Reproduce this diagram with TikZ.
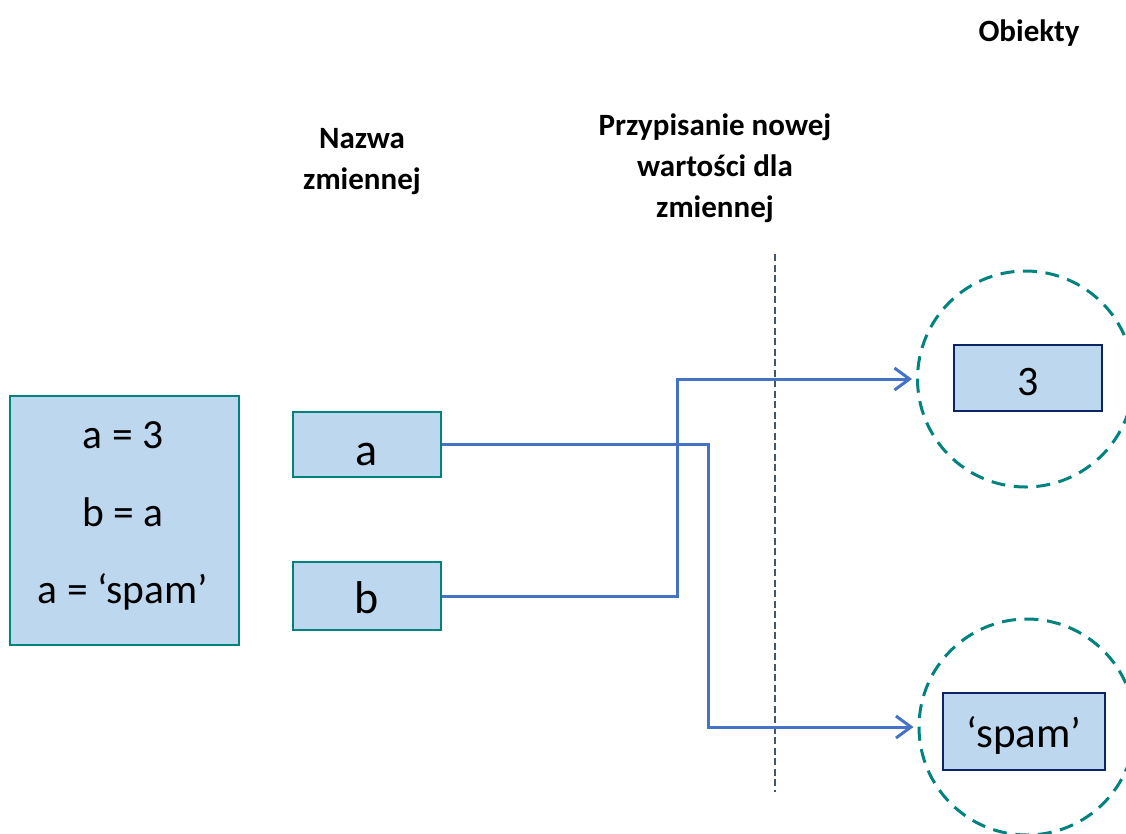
\documentclass[tikz,border=0pt]{standalone}
\usepackage{fontspec}
\setmainfont{Carlito}
\usetikzlibrary{arrows.meta}
\definecolor{boxfill}{HTML}{BDD7EE}
\definecolor{tealline}{HTML}{00827F}
\definecolor{navyline}{HTML}{0B2463}
\definecolor{linkblue}{HTML}{4472C4}
\definecolor{sepgray}{HTML}{44546A}
\begin{document}
\begin{tikzpicture}[x=1pt,y=-1pt,
  title/.style={font=\fontsize{31}{41}\selectfont\bfseries, align=center, inner sep=0pt},
  codebox/.style={draw=tealline, line width=2.6pt, fill=boxfill, inner sep=0pt},
  codeline/.style={font=\fontsize{41.5}{45}\selectfont, inner sep=0pt, anchor=base},
  varbox/.style={draw=tealline, line width=2.6pt, fill=boxfill, inner sep=0pt,
    minimum width=148pt, text depth=0pt, font=\fontsize{46}{50}\selectfont},
  objbox/.style={draw=navyline, line width=2.6pt, fill=boxfill, inner sep=0pt,
    text depth=0pt},
  objring/.style={circle, draw=tealline, line width=3pt, dash pattern=on 14pt off 8.6pt,
    minimum size=216pt, inner sep=0pt},
  link/.style={draw=linkblue, line width=3pt, -{Straight Barb[length=15pt,width=22pt]},
    shorten >=4pt},
  separator/.style={draw=sepgray, line width=2.5pt, dash pattern=on 7pt off 3.5pt}]
\useasboundingbox (0,0) rectangle (1126,833);
\clip (0,0) rectangle (1126,833);

% column headings
\node[title, anchor=base] (hObj) at (1029,41) {Obiekty};
\node[title] (hName) at (362,161.5) {Nazwa\\zmiennej};
\node[title] (hAssign) at (715,168) {Przypisanie nowej\\wartości dla\\zmiennej};

% program listing
\node[codebox, minimum width=229pt, minimum height=249pt] (code) at (124.5,520.5) {};
\node[codeline] (l1) at (123,448) {a = 3};
\node[codeline] (l2) at (123,526) {b = a};
\node[codeline] (l3) at (123,603) {a = ‘spam’};

% variable names
\node[varbox, minimum height=65pt, text height=41pt] (va) at (367,444.5) {a};
\node[varbox, minimum height=68pt, text height=34pt] (vb) at (367,596) {b};

% separator between names and objects
\coordinate (sepTop) at (775,254);
\coordinate (sepBot) at (775,792);
\draw[separator] (sepTop) -- (sepBot);

% objects in memory
\node[objring] (c1) at (1025.5,379) {};
\node[objring] (c2) at (1027,727) {};
\node[objbox, minimum width=148pt, minimum height=66pt, text height=34pt,
  font=\fontsize{42}{46}\selectfont] (o1) at (1028,378) {3};
\node[objbox, minimum width=162pt, minimum height=77pt, text height=31pt,
  font=\fontsize{43}{47}\selectfont] (o2) at (1024,731.5) {‘spam’};

% references from names to objects
\coordinate (bendA) at (708,0);
\coordinate (bendB) at (677,0);
\draw[link] (va.east) -| (bendA |- c2.west) -- (c2.west);
\draw[link] (vb.east) -| (bendB |- c1.west) -- (c1.west);
\end{tikzpicture}
\end{document}
